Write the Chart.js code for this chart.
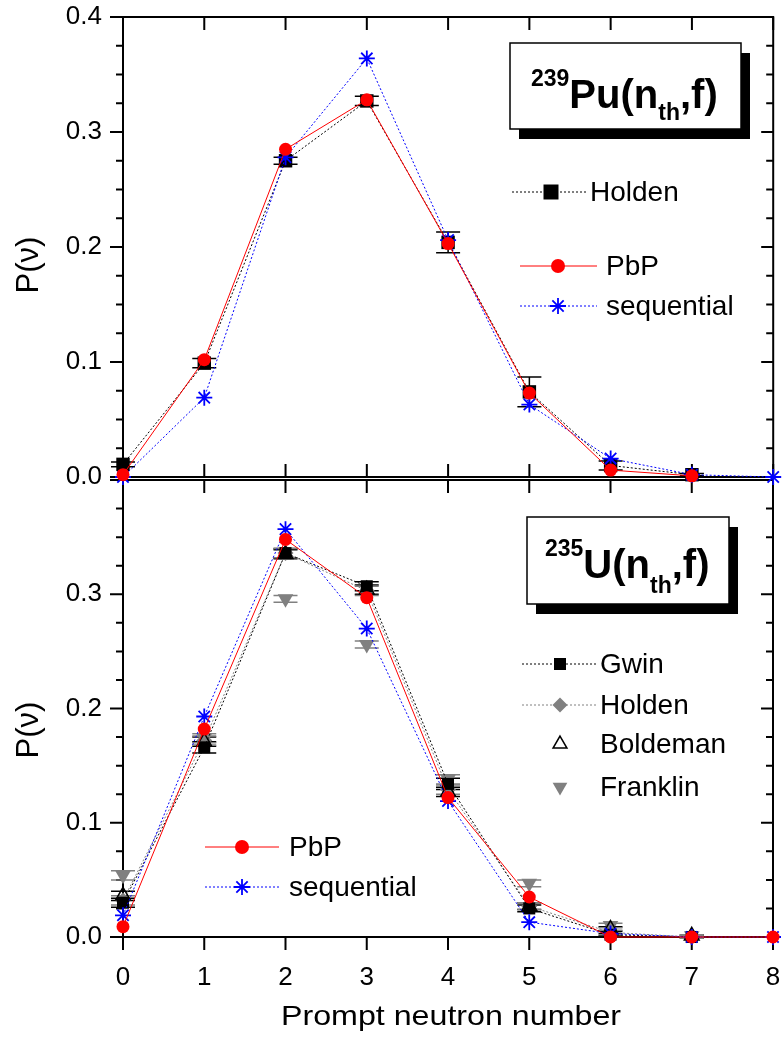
<!DOCTYPE html>
<html><head><meta charset="utf-8">
<script src="https://cdn.jsdelivr.net/npm/chart.js@4.4.0/dist/chart.umd.min.js"></script>
<style>
html,body{margin:0;padding:0;background:#fff;}
#wrap{position:relative;width:783px;height:1040px;overflow:hidden;background:#fff;}
canvas{position:absolute;left:0;}
#cA{top:0;width:783px;height:500px;}
#cB{top:470px;width:783px;height:570px;}
</style></head><body>
<div id="wrap"><canvas id="cB" width="783" height="570"></canvas><canvas id="cA" width="783" height="500"></canvas></div>
<script>
// ---- data ----
const nu = [0,1,2,3,4,5,6,7,8];
const yTickLabels = ['0.0','0.1','0.2','0.3','0.4'];
const xTitle = 'Prompt neutron number';
const yTitle = 'P(\u03BD)';
// 239Pu(nth,f)
const puHolden    = [0.011,0.099,0.275,0.327,0.204,0.074,0.010,0.002,null];
const puHoldenErr = [0.002,0.004,0.003,0.004,0.009,0.013,0.004,0.001,null];
const puPbP       = [0.002,0.102,0.285,0.328,0.203,0.073,0.006,0.001,null];
const puSeq       = [0.000,0.069,0.278,0.364,0.206,0.063,0.016,0.002,0.000];
// 235U(nth,f)
const uGwin        = [0.030,0.166,0.336,0.307,0.134,0.025,0.002,0.000,null];
const uGwinErr     = [0.004,0.005,0.004,0.004,0.005,0.003,0.001,0.001,null];
const uHolden      = [0.032,0.172,0.336,0.303,0.129,0.027,0.004,0.000,null];
const uHoldenErr   = [0.004,0.004,0.004,0.004,0.004,0.003,0.002,0.001,null];
const uBoldeman    = [0.036,0.171,0.335,0.304,0.127,0.027,0.007,0.001,null];
const uBoldemanErr = [0.004,0.004,0.004,0.004,0.004,0.003,0.002,0.001,null];
const uFranklin    = [0.054,0.174,0.296,0.256,0.138,0.047,0.010,0.001,null];
const uFranklinErr = [0.004,0.004,0.003,0.003,0.004,0.003,0.002,0.001,null];
const uPbP         = [0.009,0.182,0.348,0.297,0.122,0.035,0.000,0.000,0.000];
const uSeq         = [0.019,0.193,0.357,0.270,0.119,0.013,0.003,0.000,0.000];

const FONT = "'Liberation Sans', Arial, Helvetica, sans-serif";
function pts(vals){ return nu.map((x,i)=>vals[i]==null?null:{x:x,y:vals[i]}).filter(p=>p); }

// ---- marker drawing for legend ----
function mark(ctx,k,x,y,r,fill,stroke,lw){
  ctx.save(); ctx.beginPath(); ctx.lineWidth=lw||1;
  if(k==='circle'){ctx.arc(x,y,r,0,Math.PI*2);}
  else if(k==='rect'){ctx.rect(x-r,y-r,2*r,2*r);}
  else if(k==='diamond'){ctx.moveTo(x,y-r);ctx.lineTo(x+r,y);ctx.lineTo(x,y+r);ctx.lineTo(x-r,y);ctx.closePath();}
  else if(k==='tri'){const h=r*Math.sqrt(3)/2;ctx.moveTo(x,y-r);ctx.lineTo(x+h,y+r/2);ctx.lineTo(x-h,y+r/2);ctx.closePath();}
  else if(k==='tridown'){const h=r*Math.sqrt(3)/2;ctx.moveTo(x,y+r);ctx.lineTo(x+h,y-r/2);ctx.lineTo(x-h,y-r/2);ctx.closePath();}
  else if(k==='star'){for(let a=0;a<4;a++){const t=a*Math.PI/4;ctx.moveTo(x-Math.cos(t)*r,y-Math.sin(t)*r);ctx.lineTo(x+Math.cos(t)*r,y+Math.sin(t)*r);}}
  if(fill && k!=='star'){ctx.fillStyle=fill;ctx.fill();}
  if(stroke){ctx.strokeStyle=stroke;ctx.stroke();}
  ctx.restore();
}

// ---- plugins ----
const errPlugin = { id:'errbars', beforeDatasetsDraw(chart){
  const ctx=chart.ctx, xs=chart.scales.x, ys=chart.scales.y;
  chart.data.datasets.forEach(ds=>{
    if(!ds.errs) return;
    ctx.save(); ctx.strokeStyle=ds.errColor; ctx.lineWidth=1.5;
    ds.data.forEach(p=>{
      const e=ds.errs[nu.indexOf(p.x)]; if(!e) return;
      const px=xs.getPixelForValue(p.x), y1=ys.getPixelForValue(p.y+e), y2=ys.getPixelForValue(p.y-e);
      ctx.beginPath(); ctx.moveTo(px,y1); ctx.lineTo(px,y2);
      ctx.moveTo(px-12,y1); ctx.lineTo(px+12,y1); ctx.moveTo(px-12,y2); ctx.lineTo(px+12,y2); ctx.stroke();
    });
    ctx.restore();
  });
}};

function framePlugin(bottomOut){ return { id:'frame', beforeDatasetsDraw(chart){
  const ctx=chart.ctx, a=chart.chartArea, xs=chart.scales.x, ys=chart.scales.y;
  ctx.save(); ctx.strokeStyle='#000'; ctx.lineWidth=2; ctx.lineCap='butt';
  ctx.strokeRect(a.left,a.top,a.right-a.left,a.bottom-a.top);
  ctx.beginPath();
  for(let i=0;i<=16;i++){
    const v=i*0.025, py=ys.getPixelForValue(v), major=(i%4===0);
    const L=major?13:7, R=major?12:7;
    ctx.moveTo(a.left-L,py); ctx.lineTo(a.left,py);
    ctx.moveTo(a.right-R,py); ctx.lineTo(a.right,py);
  }
  nu.forEach(v=>{
    const px=xs.getPixelForValue(v);
    ctx.moveTo(px,a.top); ctx.lineTo(px,a.top+13);
    if(bottomOut){ ctx.moveTo(px,a.bottom); ctx.lineTo(px,a.bottom+13); }
    else { ctx.moveTo(px,a.bottom); ctx.lineTo(px,a.bottom-13); }
  });
  ctx.stroke(); ctx.restore();
}};}

function decoPlugin(cfg){ return { id:'deco', afterDraw(chart){
  const ctx=chart.ctx;
  // y title
  ctx.save(); ctx.fillStyle='#000'; ctx.font='31px '+FONT; ctx.textAlign='center'; ctx.textBaseline='middle';
  ctx.translate(cfg.yTitle[0],cfg.yTitle[1]); ctx.rotate(-Math.PI/2); ctx.fillText(yTitle,0,0); ctx.restore();
  if(cfg.xTitle){ ctx.save(); ctx.fillStyle='#000'; ctx.font='28px '+FONT; ctx.textAlign='center'; ctx.textBaseline='alphabetic';
    ctx.translate(cfg.xTitle[0],cfg.xTitle[1]); ctx.scale(1.15,1); ctx.fillText(xTitle,0,0); ctx.restore(); }
  // title box
  const b=cfg.box;
  ctx.save(); ctx.fillStyle='#000'; ctx.fillRect(b.x+9,b.y+10,b.w,b.h);
  ctx.fillStyle='#fff'; ctx.fillRect(b.x,b.y,b.w,b.h);
  ctx.strokeStyle='#000'; ctx.lineWidth=1.5; ctx.strokeRect(b.x,b.y,b.w,b.h);
  ctx.fillStyle='#000'; ctx.textBaseline='alphabetic'; ctx.textAlign='left';
  let x=b.tx;
  const parts=[[b.sup,'bold 23px '+FONT,b.supY],[b.main,'bold 40px '+FONT,b.baseY],['th','bold 23px '+FONT,b.subY],[',f)','bold 40px '+FONT,b.baseY]];
  parts.forEach(p=>{ctx.font=p[1]; ctx.fillText(p[0],x,p[2]); x+=ctx.measureText(p[0]).width;});
  ctx.restore();
  // legend
  cfg.legend.forEach(L=>{
    const ds=chart.data.datasets.find(d=>d.label===L.label);
    ctx.save();
    if(ds.showLine!==false){
      ctx.strokeStyle=ds.borderColor; ctx.lineWidth=1; ctx.setLineDash(ds.borderDash||[]);
      ctx.beginPath(); ctx.moveTo(L.l0,L.y); ctx.lineTo(L.l1,L.y); ctx.stroke(); ctx.setLineDash([]);
    }
    mark(ctx,L.m,L.x,L.y,L.r,L.fill,L.stroke,L.lw);
    ctx.fillStyle='#000'; ctx.font='28px '+FONT; ctx.textBaseline='middle'; ctx.textAlign='left';
    ctx.fillText(L.label,L.tx,L.y+1);
    ctx.restore();
  });
}};}

function yScale(hideTop){ return {
  type:'linear', min:0, max:0.4,
  afterFit(s){ s.width=123; s.paddingTop=0; s.paddingBottom=0; },
  grid:{display:false, drawTicks:false}, border:{display:false},
  ticks:{stepSize:0.1, padding:21, color:'#000', font:{family:FONT,size:26},
    callback:(v)=>{ const i=Math.round(v*10); if(hideTop && i===4) return ''; return yTickLabels[i]; }}
};}

const dotted=[2,2];
// ---- chart A (239Pu) ----
new Chart(document.getElementById('cA'),{
  type:'line',
  data:{datasets:[
    {label:'PbP', data:pts(puPbP), borderColor:'#ff0000', backgroundColor:'#ff0000', borderWidth:1,
      pointStyle:'circle', pointRadius:6.5, pointBackgroundColor:'#ff0000', pointBorderColor:'#ff0000', pointBorderWidth:0},
    {label:'sequential', data:pts(puSeq), borderColor:'#0000ff', borderWidth:1, borderDash:dotted,
      pointStyle:'star', pointRadius:8, pointBorderColor:'#0000ff', pointBorderWidth:1.8},
    {label:'Holden', data:pts(puHolden), errs:puHoldenErr, errColor:'#000', borderColor:'#000', borderWidth:1, borderDash:dotted,
      pointStyle:'rect', pointRadius:9.5, pointBackgroundColor:'#000', pointBorderColor:'#000', pointBorderWidth:0}
  ]},
  options:{
    responsive:false, animation:false, clip:false,
    layout:{padding:{top:17,right:8,bottom:23,left:0}},
    plugins:{legend:{display:false}, tooltip:{enabled:false}},
    elements:{line:{tension:0}},
    datasets:{line:{clip:false}},
    scales:{ x:{type:'linear',min:0,max:8,display:false, afterFit(s){ s.paddingLeft=0; s.paddingRight=0; }}, y:yScale(false) }
  },
  plugins:[framePlugin(false), errPlugin, decoPlugin({
    yTitle:[29,265],
    box:{x:510,y:43,w:231,h:86,tx:531,sup:'239',main:'Pu(n',supY:86,baseY:108,subY:120},
    legend:[
      {label:'Holden', m:'rect', x:551, y:192, r:7.5, fill:'#000', l0:512, l1:588, tx:590},
      {label:'PbP', m:'circle', x:558, y:266, r:7, fill:'#ff0000', l0:520, l1:597, tx:606},
      {label:'sequential', m:'star', x:558, y:306, r:8, stroke:'#0000ff', lw:1.8, l0:520, l1:597, tx:606}
    ]})]
});

// ---- chart B (235U) ----
new Chart(document.getElementById('cB'),{
  type:'line',
  data:{datasets:[
    {label:'PbP', data:pts(uPbP), borderColor:'#ff0000', borderWidth:1,
      pointStyle:'circle', pointRadius:6.5, pointBackgroundColor:'#ff0000', pointBorderColor:'#ff0000', pointBorderWidth:0},
    {label:'sequential', data:pts(uSeq), borderColor:'#0000ff', borderWidth:1, borderDash:dotted,
      pointStyle:'star', pointRadius:8, pointBorderColor:'#0000ff', pointBorderWidth:1.8},
    {label:'Gwin', data:pts(uGwin), errs:uGwinErr, errColor:'#000', borderColor:'#000', borderWidth:1, borderDash:dotted,
      pointStyle:'rect', pointRadius:8.5, pointBackgroundColor:'#000', pointBorderColor:'#000', pointBorderWidth:0},
    {label:'Boldeman', data:pts(uBoldeman), errs:uBoldemanErr, errColor:'#000', showLine:false,
      pointStyle:'triangle', pointRadius:8.5, pointBackgroundColor:'rgba(0,0,0,0)', pointBorderColor:'#000', pointBorderWidth:1.5},
    {label:'Holden', data:pts(uHolden), errs:uHoldenErr, errColor:'#808080', borderColor:'#808080', borderWidth:1, borderDash:dotted,
      pointStyle:'rectRot', pointRadius:8, pointBackgroundColor:'#808080', pointBorderColor:'#808080', pointBorderWidth:0},
    {label:'Franklin', data:pts(uFranklin), errs:uFranklinErr, errColor:'#808080', showLine:false,
      pointStyle:'triangle', pointRotation:180, pointRadius:9, pointBackgroundColor:'#808080', pointBorderColor:'#808080', pointBorderWidth:0}
  ]},
  options:{
    responsive:false, animation:false, clip:false,
    layout:{padding:{top:7,right:8,bottom:0,left:0}},
    plugins:{legend:{display:false}, tooltip:{enabled:false}},
    elements:{line:{tension:0}},
    datasets:{line:{clip:false}},
    scales:{
      x:{type:'linear',min:0,max:8, afterFit(s){ s.height=103; s.paddingLeft=0; s.paddingRight=0; },
        grid:{display:false, drawTicks:false}, border:{display:false},
        ticks:{stepSize:1, padding:25, color:'#000', font:{family:FONT,size:26}, maxRotation:0, callback:(v)=>String(v)}},
      y:yScale(true)
    }
  },
  plugins:[framePlugin(true), errPlugin, decoPlugin({
    yTitle:[29,260], xTitle:[451,555],
    box:{x:527,y:47,w:202,h:87,tx:545,sup:'235',main:'U(n',supY:86,baseY:108,subY:123},
    legend:[
      {label:'Gwin', m:'rect', x:560, y:194, r:6, fill:'#000', l0:522, l1:598, tx:600},
      {label:'Holden', m:'diamond', x:560, y:235, r:7.5, fill:'#808080', l0:522, l1:598, tx:600},
      {label:'Boldeman', m:'tri', x:560, y:274, r:8, stroke:'#000', lw:1.5, tx:600},
      {label:'Franklin', m:'tridown', x:560, y:317, r:8.5, fill:'#808080', tx:600},
      {label:'PbP', m:'circle', x:242, y:377, r:7, fill:'#ff0000', l0:205, l1:279, tx:289},
      {label:'sequential', m:'star', x:242, y:417, r:8, stroke:'#0000ff', lw:1.8, l0:205, l1:279, tx:289}
    ]})]
});
</script>
</body></html>
